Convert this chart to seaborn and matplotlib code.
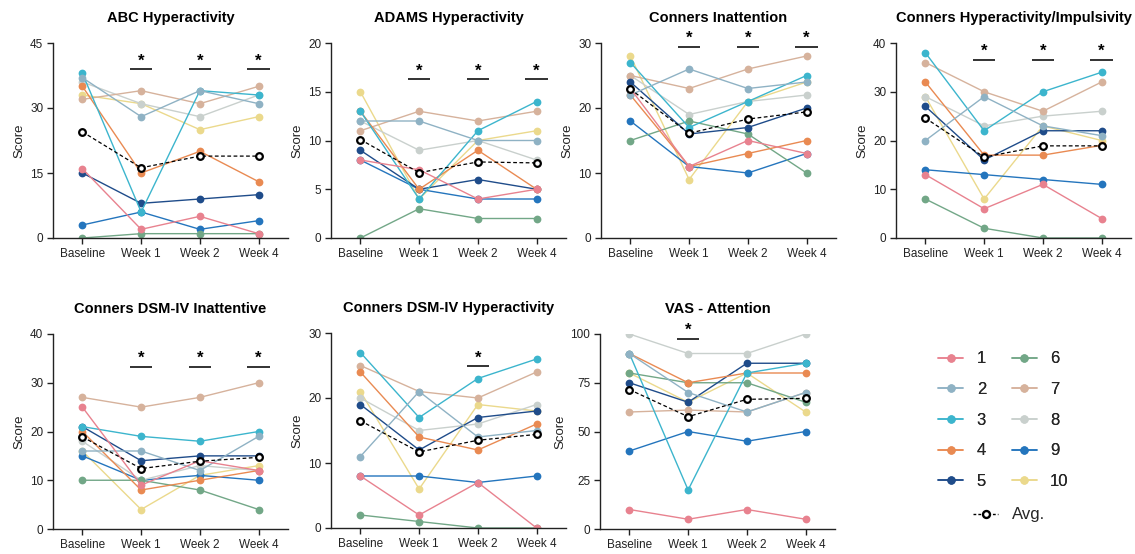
import matplotlib
matplotlib.use("Agg")
import matplotlib.pyplot as plt
from matplotlib.lines import Line2D
import numpy as np
import pandas as pd
import seaborn as sns

sns.set_style("ticks")
plt.rcParams["font.family"] = ["Liberation Sans", "DejaVu Sans"]

# ---------------- data ----------------
timepoints = ["Baseline", "Week 1", "Week 2", "Week 4"]
subjects = ["1", "2", "3", "4", "5", "6", "7", "8", "9", "10"]
colors = ["#E8828F", "#8FB2C4", "#3CB5CD", "#E98A52", "#1F4C8A",
          "#72A787", "#D6B29C", "#C9D0CD", "#2475BD", "#EBD98C"]

abc_hyper = [[16, 2, 5, 1], [37, 28, 34, 31], [38, 6, 34, 33], [35, 15, 20, 13], [15, 8, 9, 10],
             [0, 1, 1, 1], [32, 34, 31, 35], [36, 31, 28, 33], [3, 6, 2, 4], [33, 31, 25, 28]]
abc_avg = [24.5, 16.2, 18.9, 18.9]

adams_hyper = [[8, 7, 4, 5], [12, 12, 10, 10], [13, 4, 11, 14], [13, 5, 9, 5], [9, 5, 6, 5],
               [0, 3, 2, 2], [11, 13, 12, 13], [12, 9, 10, 8], [8, 5, 4, 4], [15, 4, 10, 11]]
adams_avg = [10.1, 6.7, 7.8, 7.7]

conners_inatt = [[23, 11, 15, 13], [22, 26, 23, 24], [27, 17, 21, 25], [22, 11, 13, 15], [24, 16, 17, 20],
                 [15, 18, 16, 10], [25, 23, 26, 28], [25, 19, 21, 22], [18, 11, 10, 13], [28, 9, 21, 24]]
conners_inatt_avg = [22.9, 16.1, 18.3, 19.4]

conners_hi = [[13, 6, 11, 4], [20, 29, 23, 21], [38, 22, 30, 34], [32, 17, 17, 19], [27, 16, 22, 22],
              [8, 2, 0, 0], [36, 30, 26, 32], [29, 23, 25, 26], [14, 13, 12, 11], [29, 8, 23, 20]]
conners_hi_avg = [24.6, 16.6, 18.9, 18.9]

dsm_inatt = [[25, 9, 14, 12], [16, 16, 12, 19], [21, 19, 18, 20], [20, 8, 10, 12], [21, 14, 15, 15],
             [10, 10, 8, 4], [27, 25, 27, 30], [18, 10, 13, 12], [15, 10, 11, 10], [16, 4, 11, 13]]
dsm_inatt_avg = [18.9, 12.4, 13.9, 14.7]

dsm_hyper = [[8, 2, 7, 0], [11, 21, 14, 15], [27, 17, 23, 26], [24, 14, 12, 16], [19, 12, 17, 18],
             [2, 1, 0, 0], [25, 21, 20, 24], [20, 15, 16, 19], [8, 8, 7, 8], [21, 6, 19, 18]]
dsm_hyper_avg = [16.5, 11.7, 13.5, 14.4]

vas_attention = [[10, 5, 10, 5], [90, 70, 60, 70], [90, 20, 80, 85], [90, 75, 80, 80], [75, 65, 85, 85],
                 [80, 75, 75, 65], [60, 61, 60, 70], [100, 90, 90, 100], [40, 50, 45, 50], [80, 65, 80, 60]]
vas_attention_avg = [71.5, 57.6, 66.5, 67.0]

titles = ["ABC Hyperactivity", "ADAMS Hyperactivity", "Conners Inattention",
          "Conners Hyperactivity/Impulsivity", "Conners DSM-IV Inattentive",
          "Conners DSM-IV Hyperactivity", "VAS - Attention"]
panel_data = [abc_hyper, adams_hyper, conners_inatt, conners_hi, dsm_inatt, dsm_hyper, vas_attention]
panel_avg = [abc_avg, adams_avg, conners_inatt_avg, conners_hi_avg, dsm_inatt_avg, dsm_hyper_avg,
             vas_attention_avg]
yticks = [[0, 15, 30, 45], [0, 5, 10, 15, 20], [0, 10, 20, 30], [0, 10, 20, 30, 40],
          [0, 10, 20, 30, 40], [0, 10, 20, 30], [0, 25, 50, 75, 100]]
significant = [[1, 2, 3], [1, 2, 3], [1, 2, 3], [1, 2, 3], [1, 2, 3], [2], [1]]

# ---------------- layout ----------------
sig_y = [39, 16.3, 29.4, 36.6, 33.3, 24.9, 97.6]
W, H = 1135, 554
ax_pos = [(53, 43), (331, 43), (601, 43), (896, 43), (53, 334), (331, 333), (600, 334)]
ax_w, ax_h = 235, 195
ink = "#222222"

fig = plt.figure(figsize=(W / 100, H / 100), dpi=100)

for i in range(7):
    left, top = ax_pos[i]
    ax = fig.add_axes([left / W, 1 - (top + ax_h) / H, ax_w / W, ax_h / H])
    data = panel_data[i]
    # draw subjects in reverse order so that subject 1 ends on top
    for s in reversed(range(len(subjects))):
        df = pd.DataFrame({"time": timepoints, "score": data[s]})
        sns.lineplot(data=df, x="time", y="score", ax=ax, color=colors[s], lw=1.0,
                     marker="o", markersize=5.6, markeredgewidth=0, sort=False,
                     legend=False, zorder=2)
    dfa = pd.DataFrame({"time": timepoints, "score": panel_avg[i]})
    sns.lineplot(data=dfa, x="time", y="score", ax=ax, color="black", lw=0.9,
                 linestyle=(0, (3, 2)), marker="o", markersize=4.8,
                 markerfacecolor="white", markeredgecolor="black", markeredgewidth=1.6,
                 sort=False, legend=False, zorder=3)
    yt = yticks[i]
    ax.set_ylim(yt[0], yt[-1])
    ax.set_yticks(yt)
    ax.set_xlim(-0.5, 3.5)
    ax.set_xticks(range(len(timepoints)))
    ax.set_xticklabels(timepoints)
    ax.set_xlabel("")
    ax.set_ylabel("Score", fontsize=9.5, color=ink, labelpad=3)
    ax.set_title(titles[i], fontsize=10.5, fontweight="bold", color="black", pad=15)
    for side in ["top", "right"]:
        ax.spines[side].set_visible(False)
    for side in ["left", "bottom"]:
        ax.spines[side].set_color(ink)
        ax.spines[side].set_linewidth(1.0)
    ax.tick_params(direction="out", length=4, width=1.0, color=ink, labelsize=8.5,
                   labelcolor=ink, pad=3)
    for xi in significant[i]:
        ax.plot([xi - 0.19, xi + 0.19], [sig_y[i], sig_y[i]], color=ink, lw=1.3,
                clip_on=False, solid_capstyle="butt")
        ax.annotate("*", xy=(xi, sig_y[i]), xytext=(0, 0.5), textcoords="offset points",
                    ha="center", va="bottom", fontsize=12, fontweight="bold",
                    color="black", annotation_clip=False)

# ---------------- legends ----------------
handles = [Line2D([0], [0], color=colors[s], lw=1.1, marker="o", markersize=6,
                  markeredgewidth=0) for s in range(len(subjects))]
leg1 = fig.legend(handles, subjects, ncol=2, loc="upper left",
                  bbox_to_anchor=(930 / W, 1 - 343 / H), frameon=False, fontsize=12,
                  handlelength=1.5, handletextpad=0.8, columnspacing=1.55,
                  labelspacing=0.94, borderpad=0)
avg_handle = Line2D([0], [0], color="black", lw=1.0, linestyle=(0, (2, 1.5)), marker="o",
                    markersize=5, markerfacecolor="white", markeredgecolor="black",
                    markeredgewidth=1.7)
leg2 = fig.legend([avg_handle], ["Avg."], loc="upper left",
                  bbox_to_anchor=(965 / W, 1 - 499 / H), frameon=False, fontsize=12,
                  handlelength=1.5, handletextpad=0.8, borderpad=0)
fig.add_artist(leg1)

fig.savefig("out.png", dpi=100)
